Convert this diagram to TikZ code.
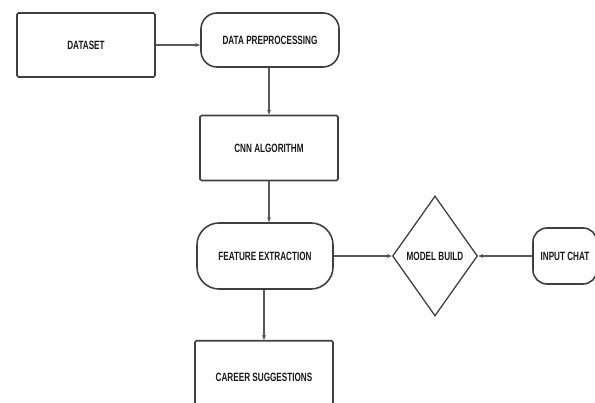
\documentclass[tikz,border=0pt]{standalone}
\usepackage{fontspec}
\setmainfont{Liberation Sans}[FakeStretch=0.68]
\usetikzlibrary{shapes.geometric,arrows.meta}
\begin{document}
\begin{tikzpicture}[x=1pt,y=-1pt,
  lbl/.style={font=\fontsize{12}{14}\selectfont\bfseries, text=black!90},
  boxst/.style={draw=black!75, line width=1.6pt, rectangle, rounded corners=1.5pt, lbl},
  pill/.style={draw=black!75, line width=1.6pt, rectangle, rounded corners=16pt, lbl},
  conn/.style={draw=black!65, line width=1.1pt, -{Stealth[length=5pt,width=4pt]}}]
\clip (0,0) rectangle (595,403);
\useasboundingbox (0,0) rectangle (595,403);
\node[boxst, minimum width=138pt, minimum height=64pt] (ds) at (86,45) {DATASET};
\node[pill, minimum width=138pt, minimum height=54pt] (dp) at (270,40) {DATA PREPROCESSING};
\node[boxst, minimum width=138pt, minimum height=65pt] (cnn) at (269,148) {CNN ALGORITHM};
\node[pill, rounded corners=22pt, minimum width=136pt, minimum height=66pt] (fe) at (265,256) {FEATURE EXTRACTION};
\node[draw=black!75, line width=1.3pt, diamond, inner sep=0pt, minimum width=85pt, minimum height=120pt, aspect=0.7] (mb) at (435,256) {};
\node[lbl] at (mb.center) {MODEL BUILD};
\node[pill, rounded corners=14pt, minimum width=64pt, minimum height=56pt] (ic) at (565,256) {INPUT CHAT};
\node[boxst, minimum width=138pt, minimum height=80pt, anchor=north] (cs) at (264,340) {};
\node[lbl] (cst) at (264,377) {CAREER SUGGESTIONS};
\coordinate (dpin) at ([yshift=-5pt]dp.west);
\draw[conn] (ds.east) -- (dpin);
\draw[conn] (dp.south -| cnn.north) -- (cnn.north);
\draw[conn] (cnn.south) -- (cnn.south |- fe.north);
\draw[conn] (fe.east) -- (mb.west);
\draw[conn] (ic.west) -- (mb.east);
\draw[conn] (fe.south -| cs.north) -- (cs.north);
\end{tikzpicture}
\end{document}
